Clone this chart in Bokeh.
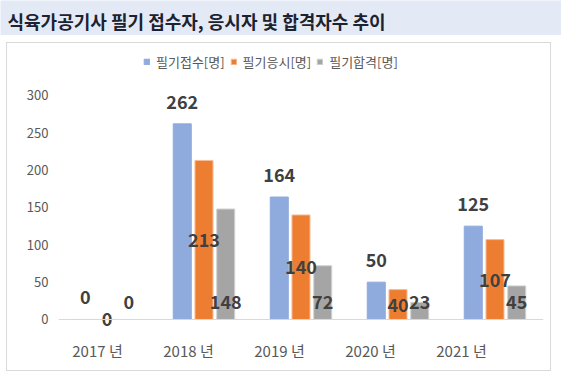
from bokeh.plotting import figure
from bokeh.models import (Range1d, FixedTicker, LinearAxis, Span, Label,
                          ColumnDataSource, Spacer)
from bokeh.layouts import column, row
from bokeh.transform import dodge
from bokeh.core.properties import value
from bokeh.embed import file_html
from bokeh.resources import INLINE

title = "식육가공기사 필기 접수자, 응시자 및 합격자수 추이"
years = ["2017 년", "2018 년", "2019 년", "2020 년", "2021 년"]
series_names = ["필기접수[명]", "필기응시[명]", "필기합격[명]"]
applied = [0, 262, 164, 50, 125]
taken = [0, 213, 140, 40, 107]
passed = [0, 148, 72, 23, 45]
y_ticks = [0, 50, 100, 150, 200, 250, 300]

FONT = "Noto Sans CJK KR"
LABEL_C = "#595959"
VAL_C = "#404040"
BAND_C = "#E4EAF5"
idx = list(range(len(years)))

src = ColumnDataSource(dict(
    x=idx,
    applied=applied, taken=taken, passed=passed,
    applied_t=[str(v) for v in applied],
    taken_t=[str(v) for v in taken],
    passed_t=[str(v) for v in passed],
    taken_mid=[v / 2 for v in taken],
    zero=[0] * len(idx),
))

# ---- title band ----
band = figure(width=561, height=35, output_backend="svg", toolbar_location=None,
              x_range=Range1d(0, 561), y_range=Range1d(0, 35),
              x_axis_type=None, y_axis_type=None,
              min_border=0, min_border_left=0, min_border_right=0,
              min_border_top=0, min_border_bottom=0)
band.outline_line_color = None
band.grid.visible = False
band.background_fill_color = BAND_C
band.border_fill_color = BAND_C
band.add_layout(Label(x=7, y=15, text=title, text_font=FONT,
                      text_font_size="18px", text_font_style="bold",
                      text_color="#1C2230", text_baseline="middle",
                      text_align="left"))

# ---- main chart ----
p = figure(width=545, height=329, output_backend="svg", toolbar_location=None,
           x_range=Range1d(-0.5, 4.5), y_range=Range1d(-26.8, 361.6),
           x_axis_type=None,
           min_border_left=51, min_border_right=9,
           min_border_top=6, min_border_bottom=33,
           styles={"border": "1px solid #D9D9D9"})
p.outline_line_color = None
p.background_fill_color = "white"
p.border_fill_color = "white"
p.grid.visible = False

ya = p.yaxis[0]
ya.ticker = FixedTicker(ticks=y_ticks)
ya.axis_line_color = None
ya.major_tick_line_color = None
ya.minor_tick_line_color = None
ya.major_tick_out = 0
ya.major_tick_in = 0
ya.major_label_text_font = FONT
ya.major_label_text_font_size = "13px"
ya.major_label_text_color = LABEL_C
ya.major_label_standoff = 10

p.extra_x_ranges = {"lab": Range1d(-0.4286, 4.901)}
xa = LinearAxis(x_range_name="lab", ticker=FixedTicker(ticks=idx),
                major_label_overrides={i: t for i, t in enumerate(years)})
xa.axis_line_color = None
xa.major_tick_line_color = None
xa.minor_tick_line_color = None
xa.major_tick_out = 0
xa.major_tick_in = 0
xa.major_label_text_font = FONT
xa.major_label_text_font_size = "15px"
xa.major_label_text_color = LABEL_C
xa.major_label_standoff = 0
p.add_layout(xa, "below")

p.add_layout(Span(location=0, dimension="width", line_color="#D9D9D9", line_width=1))

W = 0.186
D = 0.224
colors = ["#8FAADC", "#ED7D31", "#A5A5A5"]
edges = ["#8FAADC", "#F6BE98", "#D3D3D3"]
p.vbar(x=dodge("x", -D, range=p.x_range), top="applied", width=W, source=src,
       fill_color=colors[0], line_color=edges[0], legend_label=series_names[0])
p.vbar(x="x", top="taken", width=W, source=src,
       fill_color=colors[1], line_color=edges[1], legend_label=series_names[1])
p.vbar(x=dodge("x", D, range=p.x_range), top="passed", width=W, source=src,
       fill_color=colors[2], line_color=edges[2], legend_label=series_names[2])

common = dict(source=src, text_align="center", text_baseline="middle",
              text_font=value(FONT), text_font_style="bold",
              text_font_size="18px", text_color=VAL_C)
p.text(x=dodge("x", -D, range=p.x_range), y="applied", text="applied_t",
       y_offset=-22, **common)
p.text(x="x", y="taken_mid", text="taken_t", **common)
p.text(x=dodge("x", D, range=p.x_range), y="zero", text="passed_t",
       y_offset=-17, **common)

lg = p.legend[0]
lg.location = (85, 268)
lg.orientation = "horizontal"
lg.border_line_color = None
lg.background_fill_alpha = 0
lg.label_text_font = FONT
lg.label_text_font_size = "13px"
lg.label_text_color = LABEL_C
lg.glyph_width = 7
lg.glyph_height = 7
lg.label_standoff = 6
lg.spacing = 5
lg.padding = 0
lg.margin = 0
lg.label_height = 14

layout = column(band, Spacer(height=7), row(Spacer(width=6), p))

open("out.html", "w").write(file_html(layout, INLINE))
